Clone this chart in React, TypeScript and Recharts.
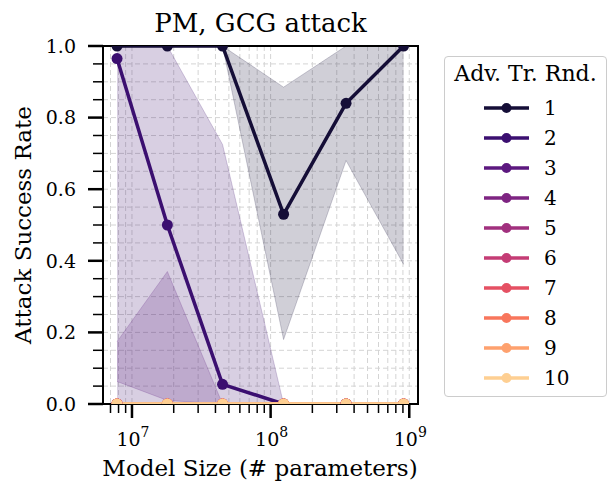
import React from 'react';
import { ComposedChart, Line, Area, XAxis, YAxis, CartesianGrid, ReferenceArea } from 'recharts';

const FONT = '"DejaVu Serif", serif';

// model sizes (# parameters)
const MODEL_SIZES = [7.8e6, 1.8e7, 4.5e7, 1.24e8, 3.5e8, 9.1e8];

const ROUNDS = ['1', '2', '3', '4', '5', '6', '7', '8', '9', '10'];
const COLORS = [
  '#150e37', '#3b0f70', '#5c187f', '#7e2482', '#a1307e',
  '#c43c75', '#e55063', '#f8765c', '#fea16e', '#fecf92',
];

// mean attack success rate per adversarial training round
const RATE_R1 = [1, 1, 1, 0.53, 0.84, 1];
const RATE_R2 = [0.965, 0.5, 0.055, 0, 0, 0];
const RATE_R3 = [0, 0, 0, 0, 0, 0];
const RATE_R4 = [0, 0, 0, 0, 0, 0];
const RATE_R5 = [0, 0, 0, 0, 0, 0];
const RATE_R6 = [0, 0, 0, 0, 0, 0];
const RATE_R7 = [0, 0, 0, 0, 0, 0];
const RATE_R8 = [0, 0, 0, 0, 0, 0];
const RATE_R9 = [0, 0, 0, 0, 0, 0];
const RATE_R10 = [0, 0, 0, 0, 0, 0];
const RATES = [RATE_R1, RATE_R2, RATE_R3, RATE_R4, RATE_R5, RATE_R6, RATE_R7, RATE_R8, RATE_R9, RATE_R10];

// confidence bands (only rounds with spread)
const BAND_R1_LO = [1, 1, 1, 0.18, 0.68, 0.39];
const BAND_R1_HI = [1, 1, 1, 0.885, 1, 1];
const BAND_R2_LO = [0, 0, 0, 0, 0, 0];
const BAND_R2_HI = [1, 1, 0.725, 0, 0, 0];
const BAND_R3_LO = [0.063, 0.01, 0, 0, 0, 0];
const BAND_R3_HI = [0.174, 0.37, 0, 0, 0, 0];
const BANDS = [
  { round: 0, lo: BAND_R1_LO, hi: BAND_R1_HI },
  { round: 1, lo: BAND_R2_LO, hi: BAND_R2_HI },
  { round: 2, lo: BAND_R3_LO, hi: BAND_R3_HI },
];

const X_MIN = 6.18e6;
const X_MAX = 1.156e9;
const X_TICKS = [
  7e6, 8e6, 9e6,
  1e7, 2e7, 3e7, 4e7, 5e7, 6e7, 7e7, 8e7, 9e7,
  1e8, 2e8, 3e8, 4e8, 5e8, 6e8, 7e8, 8e8, 9e8,
  1e9,
];
const Y_TICKS = Array.from({ length: 21 }, (_, i) => Math.round(i * 5) / 100);

const data = MODEL_SIZES.map((x, i) => {
  const row: Record<string, number | number[]> = { x };
  RATES.forEach((r, k) => { row[`r${k}`] = r[i]; });
  BANDS.forEach((b) => { row[`b${b.round}`] = [b.lo[i], b.hi[i]]; });
  return row;
});

function XTick(props: any) {
  const { x, y, payload } = props;
  const exp = Math.log10(payload.value);
  const major = Math.abs(exp - Math.round(exp)) < 1e-6;
  return (
    <g>
      <line x1={x} x2={x} y1={y} y2={y + (major ? 14 : 9)} stroke="#000" strokeWidth={major ? 2.5 : 1.5} />
      {major && (
        <text x={x + 1} y={y + 42} textAnchor="middle" fontFamily={FONT} fontSize={19} fill="#000">
          10<tspan dy={-9} fontSize={14}>{Math.round(exp)}</tspan>
        </text>
      )}
    </g>
  );
}

function YTick(props: any) {
  const { x, y, payload } = props;
  const v = payload.value;
  const major = Math.abs(v * 5 - Math.round(v * 5)) < 1e-6;
  return (
    <g>
      <line x1={x - (major ? 15 : 10)} x2={x} y1={y} y2={y} stroke="#000" strokeWidth={major ? 2.5 : 1.5} />
      {major && (
        <text x={x - 27} y={y} dy="0.36em" textAnchor="end" fontFamily={FONT} fontSize={19} fill="#000">
          {v.toFixed(1)}
        </text>
      )}
    </g>
  );
}

function LegendBox() {
  return (
    <div style={{
      position: 'absolute', left: 444, top: 56, width: 163, height: 341,
      border: '1px solid #cccccc', borderRadius: 4, boxSizing: 'border-box',
      fontFamily: FONT, background: '#fff',
    }}>
      <div style={{ position: 'absolute', top: 4, width: '100%', textAlign: 'center', fontSize: 22, lineHeight: '26px' }}>
        Adv. Tr. Rnd.
      </div>
      {ROUNDS.map((name, i) => (
        <div key={name} style={{ position: 'absolute', left: 38, top: 36 + i * 30, height: 30, display: 'flex', alignItems: 'center' }}>
          <svg width={48} height={14}>
            <line x1={1} x2={46} y1={7} y2={7} stroke={COLORS[i]} strokeWidth={3.5} />
            <circle cx={23.5} cy={7} r={5} fill={COLORS[i]} />
          </svg>
          <span style={{ marginLeft: 13, fontSize: 20 }}>{name}</span>
        </div>
      ))}
    </div>
  );
}

export default function App() {
  return (
    <div style={{ position: 'absolute', left: 0, top: 0, width: 610, height: 487, background: '#fff' }}>
      <div style={{ position: 'absolute', left: 103, width: 315, top: 10, textAlign: 'center', fontFamily: FONT, fontSize: 26, lineHeight: 1 }}>
        PM, GCG attack
      </div>
      <ComposedChart width={610} height={487} data={data} margin={{ top: 46, right: 192, bottom: 0, left: 0 }}>
        <CartesianGrid stroke="#d4d4d4" strokeDasharray="5 3" strokeWidth={1} />
        <XAxis
          dataKey="x"
          type="number"
          scale="log"
          domain={[X_MIN, X_MAX]}
          allowDataOverflow
          ticks={X_TICKS}
          interval={0}
          height={83}
          axisLine={false}
          tickLine={false}
          tickSize={0}
          tickMargin={0}
          tick={<XTick />}
        />
        <YAxis
          type="number"
          domain={[0, 1]}
          allowDataOverflow
          ticks={Y_TICKS}
          interval={0}
          width={103}
          axisLine={false}
          tickLine={false}
          tickSize={0}
          tickMargin={0}
          tick={<YTick />}
        />
        {BANDS.map((b) => (
          <Area
            key={`b${b.round}`}
            dataKey={`b${b.round}`}
            type="linear"
            fill={COLORS[b.round]}
            fillOpacity={0.2}
            stroke={COLORS[b.round]}
            strokeOpacity={0.2}
            strokeWidth={1}
            dot={false}
            activeDot={false}
            isAnimationActive={false}
          />
        ))}
        {ROUNDS.map((name, k) => (
          <Line
            key={name}
            dataKey={`r${k}`}
            type="linear"
            stroke={COLORS[k]}
            strokeWidth={3.5}
            dot={{ r: 5.5, fill: COLORS[k], stroke: COLORS[k], strokeWidth: 0 }}
            activeDot={false}
            isAnimationActive={false}
          />
        ))}
        <ReferenceArea x1={X_MIN} x2={X_MAX} y1={0} y2={1} fill="none" stroke="#000" strokeWidth={2} />
      </ComposedChart>
      <div style={{ position: 'absolute', left: 60, width: 400, top: 457, textAlign: 'center', fontFamily: FONT, fontSize: 23, lineHeight: 1 }}>
        Model Size (# parameters)
      </div>
      <div style={{
        position: 'absolute', left: 23, top: 225, width: 0, height: 0,
      }}>
        <div style={{
          position: 'absolute', transform: 'translate(-50%, -50%) rotate(-90deg)', whiteSpace: 'nowrap',
          fontFamily: FONT, fontSize: 23, lineHeight: 1,
        }}>
          Attack Success Rate
        </div>
      </div>
      <LegendBox />
    </div>
  );
}
